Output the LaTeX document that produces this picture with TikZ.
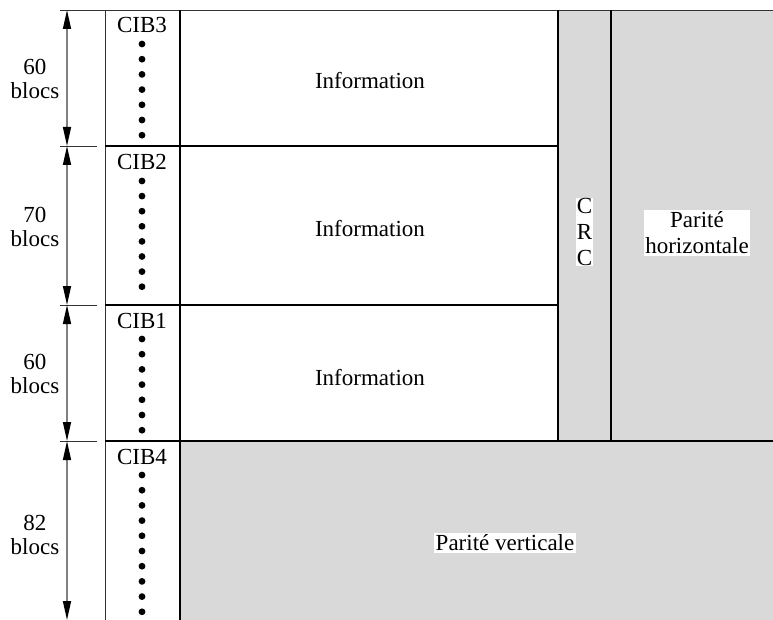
\documentclass[tikz,border=0pt]{standalone}
\usepackage{fontspec}
\setmainfont{Liberation Serif}
\usetikzlibrary{arrows.meta}
\definecolor{panelgray}{HTML}{D9D9D9}
\begin{document}
\begin{tikzpicture}[x=1pt,y=-1pt,
  heavy/.style={line width=2pt,black},
  light/.style={line width=0.9pt,black!80},
  dim/.style={line width=1.4pt,draw=black!50,
    {Triangle[length=19pt,width=8pt,color=black]}-{Triangle[length=19pt,width=8pt,color=black]}},
  txt/.style={font=\fontsize{23}{23}\selectfont,inner sep=1pt},
  lbl/.style={font=\fontsize{23}{24}\selectfont,align=center,inner sep=1pt},
  whitelbl/.style={font=\fontsize{23}{26}\selectfont,align=center,fill=white,inner sep=1.5pt},
  dotmark/.style={fill=black}]
\useasboundingbox (0,0) rectangle (773,620);
% shaded areas
\fill[panelgray] (558,10) rectangle (773,441);
\fill[panelgray] (180,441) rectangle (773,620);
% thin lines
\draw[light] (60,10) -- (773,10);
\draw[light] (105,10) -- (105,620);
\foreach \y in {146,305,441} \draw[light] (60,\y) -- (97,\y);
% heavy lines
\draw[heavy] (180,10) -- (180,620);
\draw[heavy] (558,10) -- (558,441);
\draw[heavy] (611,10) -- (611,441);
\draw[heavy] (105,146) -- (558,146);
\draw[heavy] (105,305) -- (558,305);
\draw[heavy] (105,441) -- (773,441);
% dimension arrows
\coordinate (d0) at (67,10);
\coordinate (d1) at (67,146);
\coordinate (d2) at (67,305);
\coordinate (d3) at (67,441);
\coordinate (d4) at (67,620);
\draw[dim] (d0) -- (d1);
\draw[dim] (d1) -- (d2);
\draw[dim] (d2) -- (d3);
\draw[dim] (d3) -- (d4);
\node[lbl] (n1) at (35,79) {60\\blocs};
\node[lbl] (n2) at (35,227) {70\\blocs};
\node[lbl] (n3) at (35,374) {60\\blocs};
\node[lbl] (n4) at (35,535) {82\\blocs};
% CIB labels and dots
\node[txt] (cib3) at (142,25) {CIB3};
\node[txt] (cib2) at (142,162) {CIB2};
\node[txt] (cib1) at (142,321) {CIB1};
\node[txt] (cib4) at (142,457) {CIB4};
\foreach \i in {0,...,6} \fill[dotmark] (142,44+15.2*\i) circle (3.4);
\foreach \i in {0,...,7} \fill[dotmark] (142,181+15.1*\i) circle (3.4);
\foreach \i in {0,...,6} \fill[dotmark] (142,339+15.2*\i) circle (3.4);
\foreach \i in {0,...,9} \fill[dotmark] (142,475+15.2*\i) circle (3.4);
% information
\node[txt] (i3) at (370,81) {Information};
\node[txt] (i2) at (370,229) {Information};
\node[txt] (i1) at (370,378) {Information};
% CRC and parity
\node[whitelbl,inner sep=0.5pt] (crc) at (584.5,232) {C\\R\\C};
\node[whitelbl] (ph) at (697,233) {Parité\\horizontale};
\node[whitelbl] (pv) at (505,543) {Parité verticale};
\end{tikzpicture}
\end{document}
